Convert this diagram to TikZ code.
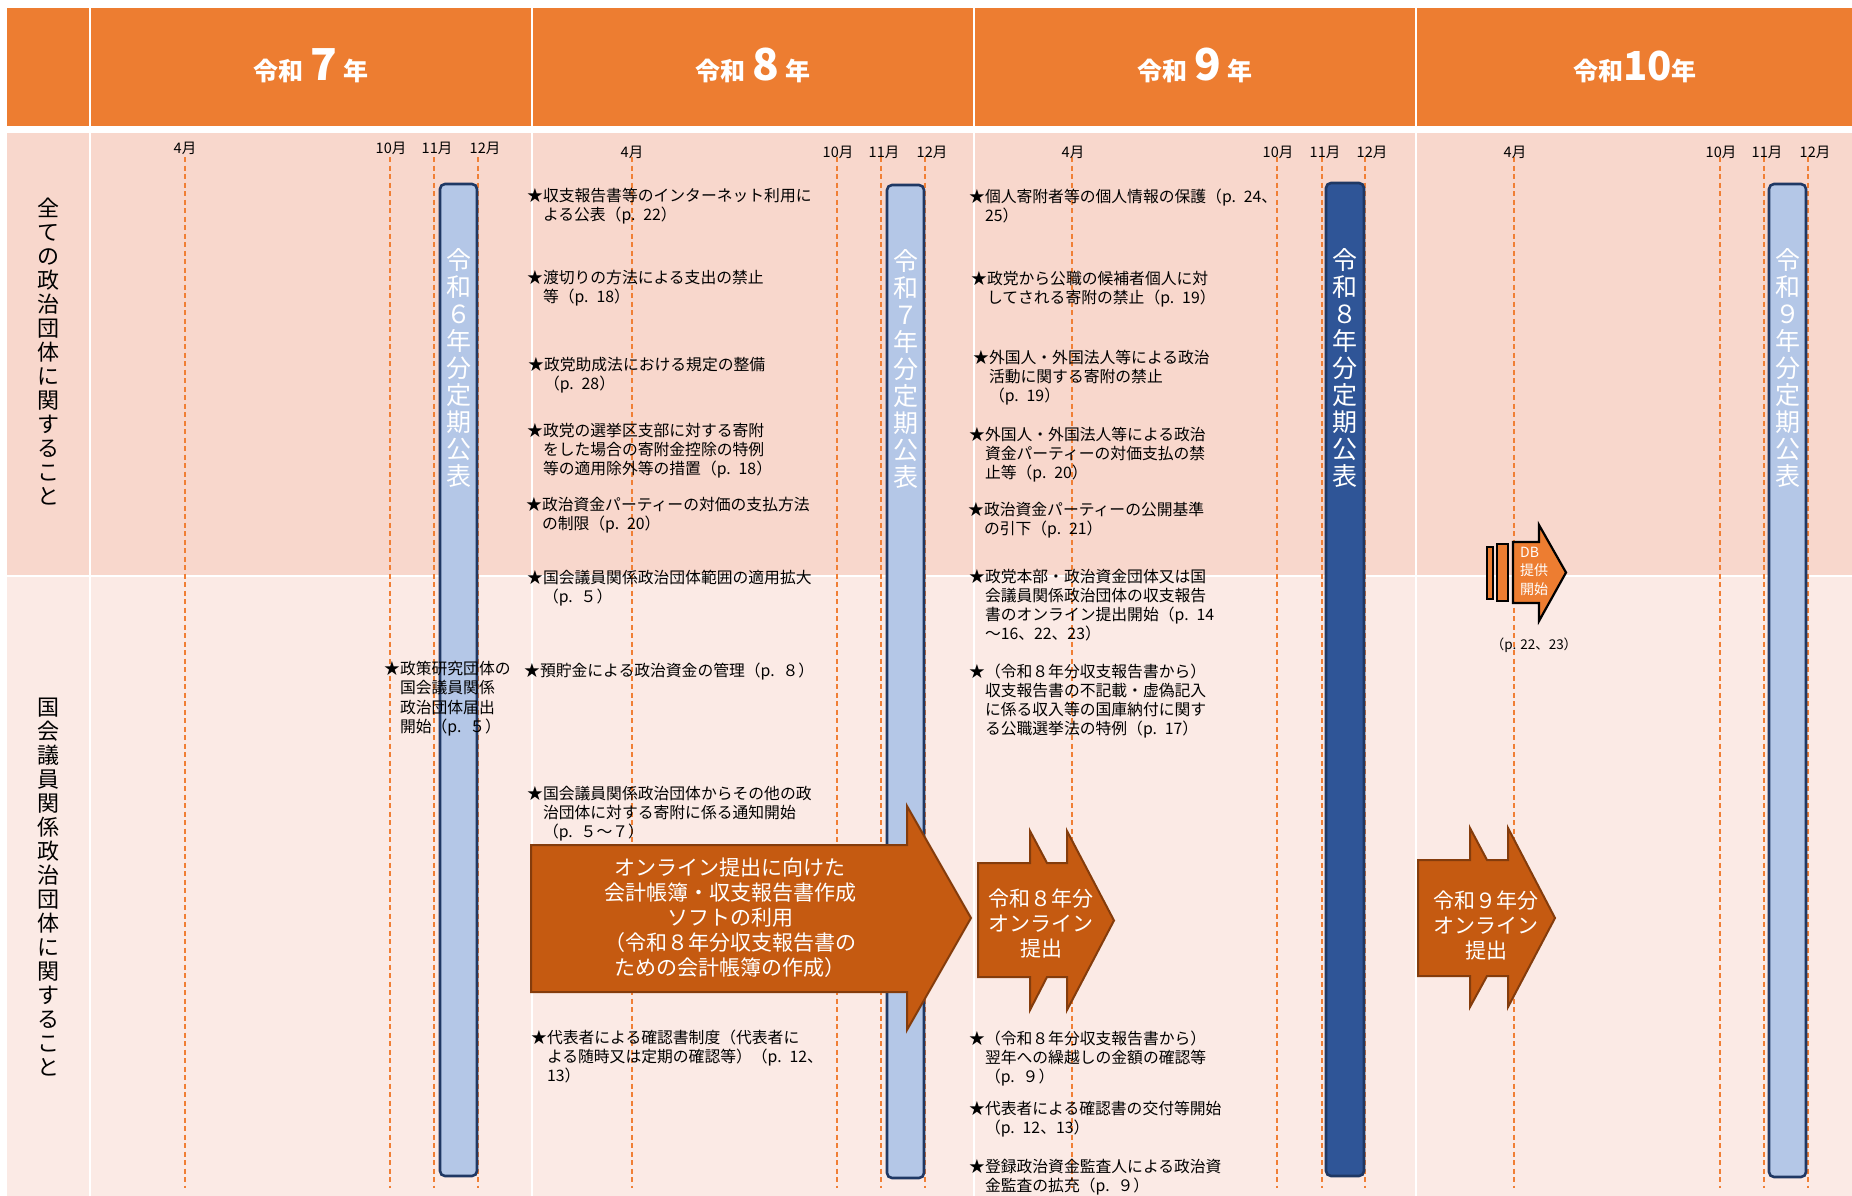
\documentclass[tikz,border=0pt]{standalone}
\usepackage{fontspec}
\setmainfont{Noto Sans CJK JP}
\definecolor{hdr}{HTML}{ED7D31}
\definecolor{rowA}{HTML}{F8D7CC}
\definecolor{rowB}{HTML}{FBEAE5}
\definecolor{barL}{HTML}{B4C7E7}
\definecolor{barLine}{HTML}{1F3864}
\definecolor{barD}{HTML}{2F5597}
\definecolor{arw}{HTML}{C55A11}
\definecolor{arwLine}{HTML}{843C0C}
\definecolor{dashc}{HTML}{F07F35}
\begin{document}
\begin{tikzpicture}[x=1pt,y=-1pt,
  yearlbl/.style={anchor=base, inner sep=0pt, text=white, font=\bfseries\fontsize{25}{25}\selectfont},
  mon/.style={anchor=center, inner sep=0pt, font=\fontsize{14.5}{15}\selectfont},
  mline/.style={dashc, line width=1.3pt, dash pattern=on 5pt off 3.5pt},
  pubbar/.style={draw=barLine, line width=2.6pt, rounded corners=5pt},
  bartext/.style={anchor=center, inner sep=0pt, align=center, text=white, font=\fontsize{25}{27}\selectfont},
  sidelbl/.style={anchor=center, inner sep=0pt, align=center, font=\fontsize{22}{24}\selectfont},
  item/.style={anchor=base west, inner sep=0pt, text width=380pt, align=left, font=\fontsize{15.8}{19}\selectfont},
  bigarrow/.style={fill=arw, draw=arwLine, line width=2pt, line join=miter},
  arrtext/.style={anchor=center, inner sep=0pt, align=center, text=white, font=\fontsize{21}{25}\selectfont},
  dbshape/.style={fill=hdr, draw=black, line width=2.2pt, line join=miter},
]
\useasboundingbox (0,0) rectangle (1852,1196);
\fill[white] (0,0) rectangle (1852,1196);
% ---------- backgrounds
\fill[hdr] (7,8) rectangle (89,126);
\fill[rowA] (7,133.5) rectangle (89,574.7);
\fill[rowB] (7,576.8) rectangle (89,1196);
\foreach \a/\b in {91/531,533/973,975/1415,1417/1852}{
  \fill[hdr] (\a,8) rectangle (\b,126);
  \fill[rowA] (\a,133.5) rectangle (\b,574.7);
  \fill[rowB] (\a,576.8) rectangle (\b,1196);
}
% ---------- year headers
\node[yearlbl] (y7) at (311,81) {令和\hspace{7pt}{\fontsize{44}{44}\selectfont 7}\hspace{7pt}年};
\node[yearlbl] (y8) at (753,81) {令和\hspace{7pt}{\fontsize{44}{44}\selectfont 8}\hspace{7pt}年};
\node[yearlbl] (y9) at (1195,81) {令和\hspace{7pt}{\fontsize{44}{44}\selectfont 9}\hspace{7pt}年};
\node[yearlbl] (y10) at (1635,81) {令和{\fontsize{40}{40}\selectfont 10}年};
% ---------- month lines and labels
\foreach \x in {185,390,434,478,632,837,881,925,1072,1277,1322,1365,1514,1720,1764,1808}{
  \draw[mline] (\x,157) -- (\x,1188);
}
\foreach \x/\ly/\m [count=\i] in {185/148/4月,391/148/10月,437/148/11月,485/148/12月,
                                632/152/4月,838/152/10月,884/152/11月,932/152/12月,
                                1073/152/4月,1278/152/10月,1325/152/11月,1372/152/12月,
                                1515/152/4月,1721/152/10月,1767/152/11月,1815/152/12月}{
  \node[mon] (mon\i) at (\x,\ly) {\m};
}
% ---------- side labels
\node[sidelbl] (side1) at (48,352) {全\\て\\の\\政\\治\\団\\体\\に\\関\\す\\る\\こ\\と};
\node[sidelbl] (side2) at (48,887) {国\\会\\議\\員\\関\\係\\政\\治\\団\\体\\に\\関\\す\\る\\こ\\と};
% ---------- publication bars
\draw[pubbar, fill=barL] (440,184) rectangle (477,1176);
\draw[pubbar, fill=barL] (887,185) rectangle (924,1178);
\draw[pubbar, fill=barD] (1326,183) rectangle (1364,1176);
\draw[pubbar, fill=barL] (1769,184) rectangle (1806,1177);
\node[bartext] (bar6) at (458.5,368) {令\\和\\６\\年\\分\\定\\期\\公\\表};
\node[bartext] (bar7) at (905.5,369) {令\\和\\７\\年\\分\\定\\期\\公\\表};
\node[bartext] (bar8) at (1345,368) {令\\和\\８\\年\\分\\定\\期\\公\\表};
\node[bartext] (bar9) at (1787.5,368) {令\\和\\９\\年\\分\\定\\期\\公\\表};
% ---------- arrows
\draw[bigarrow] (531,845) -- (907,845) -- (907,806) -- (971,918) -- (907,1030) -- (907,992) -- (531,992) -- cycle;
\node[arrtext] (soft) at (730,917.5) {オンライン提出に向けた\\会計帳簿・収支報告書作成\\ソフトの利用\\（令和８年分収支報告書の\\ための会計帳簿の作成）};
\draw[bigarrow] (978,863) -- (1030,863) -- (1030,831) -- (1047,863) -- (1067,863) -- (1067,831) -- (1114,920.5) -- (1067,1010) -- (1067,977) -- (1047,977) -- (1030,1010) -- (1030,977) -- (978,977) -- cycle;
\node[arrtext] (on8) at (1041,923.5) {令和８年分\\オンライン\\提出};
\draw[bigarrow] (1418,860) -- (1470,860) -- (1470,828) -- (1487,860) -- (1508,860) -- (1508,828) -- (1555,918) -- (1508,1007) -- (1508,976) -- (1487,976) -- (1470,1007) -- (1470,976) -- (1418,976) -- cycle;
\node[arrtext] (on9) at (1486,925) {令和９年分\\オンライン\\提出};
% ---------- DB arrow
\draw[dbshape] (1487,547) rectangle (1493,599);
\draw[dbshape] (1497,544) rectangle (1508,601);
\draw[dbshape] (1513,542) -- (1539,542) -- (1539,525) -- (1566,572.5) -- (1539,621) -- (1539,603) -- (1513,603) -- cycle;
\node[anchor=base west, inner sep=0pt, text width=40pt, align=left, text=white, font=\fontsize{14}{18.5}\selectfont] (db) at (1520,557) {DB\\提供\\開始};
\node[anchor=center, inner sep=0pt, font=\fontsize{13.5}{14}\selectfont] (dbp) at (1534,645) {（p. 22、23）};
% ---------- items, 令和7年
\node[item, text width=150pt, font=\fontsize{15.8}{19.6}\selectfont] (a0) at (384,674) {★政策研究団体の\\　国会議員関係\\　政治団体届出\\　開始（p. ５）};
% ---------- items, 令和8年
\node[item] (a1) at (527,201) {★収支報告書等のインターネット利用に\\　よる公表（p. 22）};
\node[item] (a2) at (527,283) {★渡切りの方法による支出の禁止\\　等（p. 18）};
\node[item] (a3) at (528,370) {★政党助成法における規定の整備\\　（p. 28）};
\node[item] (a4) at (527,436) {★政党の選挙区支部に対する寄附\\　をした場合の寄附金控除の特例\\　等の適用除外等の措置（p. 18）};
\node[item] (a5) at (526,510) {★政治資金パーティーの対価の支払方法\\　の制限（p. 20）};
\node[item] (a6) at (527,583) {★国会議員関係政治団体範囲の適用拡大\\　（p. ５）};
\node[item] (a7) at (524,676) {★預貯金による政治資金の管理（p. ８）};
\node[item] (a8) at (527,799) {★国会議員関係政治団体からその他の政\\　治団体に対する寄附に係る通知開始\\　（p. ５～７）};
\node[item] (a9) at (531,1043) {★代表者による確認書制度（代表者に\\　よる随時又は定期の確認等）（p. 12、\\　13）};
% ---------- items, 令和9年
\node[item] (b1) at (969,202) {★個人寄附者等の個人情報の保護（p. 24、\\　25）};
\node[item] (b2) at (971,284) {★政党から公職の候補者個人に対\\　してされる寄附の禁止（p. 19）};
\node[item] (b3) at (973,363) {★外国人・外国法人等による政治\\　活動に関する寄附の禁止\\　（p. 19）};
\node[item] (b4) at (969,440) {★外国人・外国法人等による政治\\　資金パーティーの対価支払の禁\\　止等（p. 20）};
\node[item] (b5) at (968,515) {★政治資金パーティーの公開基準\\　の引下（p. 21）};
\node[item] (b6) at (969,582) {★政党本部・政治資金団体又は国\\　会議員関係政治団体の収支報告\\　書のオンライン提出開始（p. 14\\　～16、22、23）};
\node[item] (b7) at (969,677) {★（令和８年分収支報告書から）\\　収支報告書の不記載・虚偽記入\\　に係る収入等の国庫納付に関す\\　る公職選挙法の特例（p. 17）};
\node[item] (b8) at (969,1044) {★（令和８年分収支報告書から）\\　翌年への繰越しの金額の確認等\\　（p. ９）};
\node[item] (b9) at (969,1114) {★代表者による確認書の交付等開始\\　（p. 12、13）};
\node[item] (b10) at (969,1172) {★登録政治資金監査人による政治資\\　金監査の拡充（p. ９）};
\end{tikzpicture}
\end{document}
